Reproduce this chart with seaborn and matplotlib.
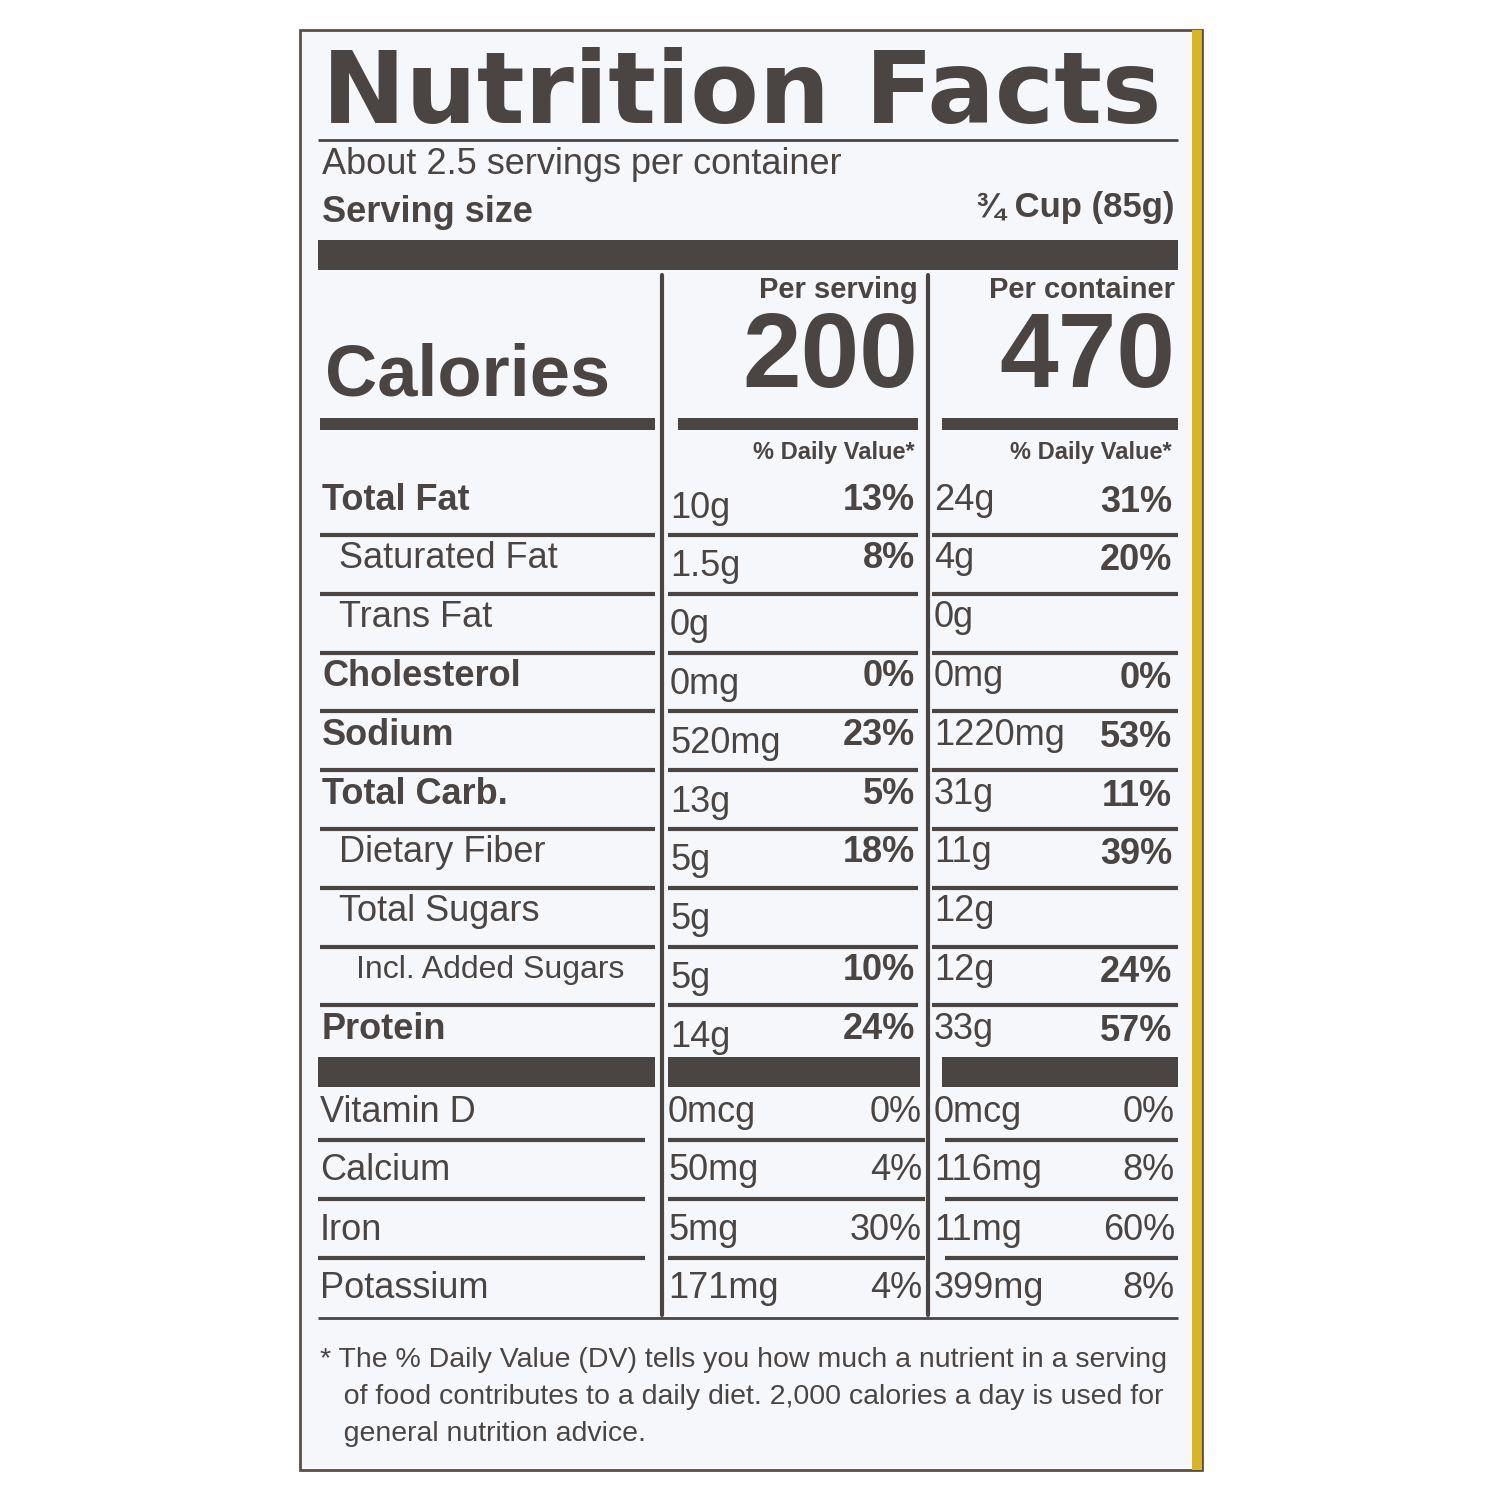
import matplotlib
matplotlib.use("Agg")
import matplotlib.pyplot as plt
import seaborn as sns
from matplotlib.patches import Rectangle

sns.set_theme(style="white")
plt.rcParams['font.family'] = ['Liberation Sans', 'DejaVu Sans']

C = "#4a4542"
nutrients = ["Total Fat", "Saturated Fat", "Trans Fat", "Cholesterol", "Sodium", "Total Carb.",
             "Dietary Fiber", "Total Sugars", "Incl. Added Sugars", "Protein"]
indent = [0, 1, 1, 0, 0, 0, 1, 1, 2, 0]
bold = [True, False, False, True, True, True, False, False, False, True]
serv_amt = ["10g", "1.5g", "0g", "0mg", "520mg", "13g", "5g", "5g", "5g", "14g"]
serv_dv = ["13%", "8%", "", "0%", "23%", "5%", "18%", "", "10%", "24%"]
cont_amt = ["24g", "4g", "0g", "0mg", "1220mg", "31g", "11g", "12g", "12g", "33g"]
cont_dv = ["31%", "20%", "", "0%", "53%", "11%", "39%", "", "24%", "57%"]
vitamins = ["Vitamin D", "Calcium", "Iron", "Potassium"]
vit_serv_amt = ["0mcg", "50mg", "5mg", "171mg"]
vit_serv_dv = ["0%", "4%", "30%", "4%"]
vit_cont_amt = ["0mcg", "116mg", "11mg", "399mg"]
vit_cont_dv = ["0%", "8%", "60%", "8%"]
calories = ["200", "470"]

fig = plt.figure(figsize=(15, 15), dpi=100)
ax = fig.add_axes([0, 0, 1, 1])
ax.set_xlim(0, 1500); ax.set_ylim(1500, 0); ax.axis("off")
fig.patch.set_facecolor("white")

ax.add_patch(Rectangle((300, 30), 902, 1440, facecolor="#f5f7fb", edgecolor="#5a5040", lw=2))
ax.add_patch(Rectangle((1192, 30), 10, 1440, facecolor="#d9b42a", edgecolor="none"))

def hl(y, x0, x1, lw=3):
    ax.plot([x0, x1], [y, y], color=C, lw=lw, solid_capstyle="butt")

ax.text(322, 95, "Nutrition Facts", fontsize=72, fontweight="black", color=C,
        va="center", ha="left", family=["DejaVu Sans"])
hl(140, 318, 1178, 2)
ax.text(322, 165, "About 2.5 servings per container", fontsize=26, color=C, va="center")
ax.text(322, 212, "Serving size", fontsize=26, fontweight="bold", color=C, va="center")
ax.text(1175, 208, "¾ Cup (85g)", fontsize=25, fontweight="bold", color=C, va="center", ha="right")
ax.add_patch(Rectangle((318, 240), 860, 30, facecolor=C, edgecolor="none"))

ax.plot([662, 662], [275, 1315], color=C, lw=3)
ax.plot([928, 928], [275, 1315], color=C, lw=3)

ax.text(325, 377, "Calories", fontsize=52, fontweight="bold", color=C, va="center")
ax.text(918, 290, "Per serving", fontsize=21, fontweight="bold", color=C, va="center", ha="right")
ax.text(1175, 290, "Per container", fontsize=21, fontweight="bold", color=C, va="center", ha="right")
ax.text(918, 360, calories[0], fontsize=76, fontweight="bold", color=C, va="center", ha="right")
ax.text(1175, 360, calories[1], fontsize=76, fontweight="bold", color=C, va="center", ha="right")
for x0, x1 in [(320, 655), (678, 918), (942, 1178)]:
    ax.add_patch(Rectangle((x0, 418), x1 - x0, 12, facecolor=C, edgecolor="none"))
ax.text(915, 452, "% Daily Value*", fontsize=17, fontweight="bold", color=C, va="center", ha="right")
ax.text(1172, 452, "% Daily Value*", fontsize=17, fontweight="bold", color=C, va="center", ha="right")

y0, dy = 500, 58.8
for i, n in enumerate(nutrients):
    y = y0 + i * dy
    fs = 23 if i == 8 else 26
    ax.text(322 + indent[i] * 17, y, n, fontsize=fs, color=C, va="center",
            fontweight="bold" if bold[i] else "normal")
    ax.text(670, y + 8, serv_amt[i], fontsize=26, color=C, va="center")
    ax.text(915, y, serv_dv[i], fontsize=26, color=C, va="center", ha="right", fontweight="bold")
    ax.text(934, y, cont_amt[i], fontsize=26, color=C, va="center")
    ax.text(1172, y + 2, cont_dv[i], fontsize=26, color=C, va="center", ha="right", fontweight="bold")
    if i < len(nutrients) - 1:
        yl = y + 35
        hl(yl, 320, 655); hl(yl, 668, 918); hl(yl, 932, 1178)
for x0, x1 in [(318, 655), (668, 920), (942, 1178)]:
    ax.add_patch(Rectangle((x0, 1057), x1 - x0, 30, facecolor=C, edgecolor="none"))

for i, v in enumerate(vitamins):
    y = 1112 + i * 59
    ax.text(320, y, v, fontsize=26, color=C, va="center")
    ax.text(668, y, vit_serv_amt[i], fontsize=26, color=C, va="center")
    ax.text(922, y, vit_serv_dv[i], fontsize=26, color=C, va="center", ha="right")
    ax.text(934, y, vit_cont_amt[i], fontsize=26, color=C, va="center")
    ax.text(1175, y, vit_cont_dv[i], fontsize=26, color=C, va="center", ha="right")
    if i < len(vitamins) - 1:
        yl = y + 28
        hl(yl, 318, 645); hl(yl, 668, 925); hl(yl, 945, 1178)
hl(1318, 318, 1178, 2)

foot = ["* The % Daily Value (DV) tells you how much a nutrient in a serving",
        "   of food contributes to a daily diet. 2,000 calories a day is used for",
        "   general nutrition advice."]
for i, f in enumerate(foot):
    ax.text(320, 1360 + i * 37, f, fontsize=20.5, color=C, va="center")

fig.savefig("out.png", dpi=100)
